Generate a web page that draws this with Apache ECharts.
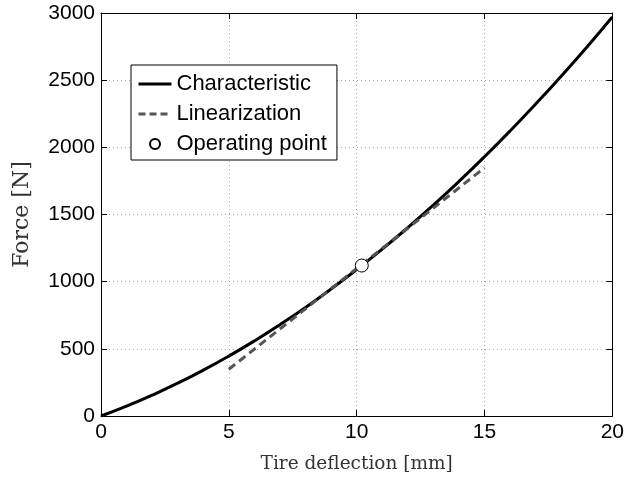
<!DOCTYPE html>
<html>
<head>
<meta charset="utf-8">
<script src="https://cdn.jsdelivr.net/npm/echarts@6/dist/echarts.min.js"></script>
<style>
  html, body { margin: 0; padding: 0; background: #fff; }
  #chart { width: 627px; height: 481px; }
</style>
</head>
<body>
<div id="chart"></div>
<script>
// tire deflection [mm] and force [N]
const deflection = [0, 1, 2, 3, 4, 5, 6, 7, 8, 9, 10, 11, 12, 13, 14, 15, 16, 17, 18, 19, 20]
const force = [0, 73, 155, 244, 341, 446, 559, 680, 808, 945, 1090, 1242, 1402, 1570, 1746, 1930, 2122, 2322, 2530, 2745, 2970]

const linX = [5, 15]
const linY = [348, 1848]

const opPoint = [10.2, 1120]

const labelFont = 'Liberation Sans'
const nameFont = 'DejaVu Serif'

const zip = (xs, ys) => xs.map((x, i) => [x, ys[i]])

const chart = echarts.init(document.getElementById('chart'))

const gridLine = { show: true, lineStyle: { color: '#a8a8a8', type: [1, 3], width: 1 } }
const tick = { show: true, inside: true, length: 6, lineStyle: { color: '#000' } }
const plain = v => String(v)

chart.setOption({
  animation: false,
  backgroundColor: '#fff',
  grid: { left: 101, right: 14, top: 13, bottom: 65 },
  legend: {
    left: 131,
    top: 65,
    orient: 'vertical',
    backgroundColor: '#fff',
    borderColor: '#000',
    borderWidth: 1,
    borderRadius: 0,
    padding: [8, 10, 5, 6],
    itemWidth: 33,
    itemHeight: 10,
    itemGap: 8,
    textStyle: { fontFamily: labelFont, fontSize: 22, color: '#000' },
    data: [
      { name: 'Characteristic', itemStyle: { opacity: 0 }, lineStyle: { width: 3, color: '#000' } },
      { name: 'Linearization', itemStyle: { opacity: 0 }, lineStyle: { width: 3, color: '#555', type: [7, 4] } },
      { name: 'Operating point', itemStyle: { opacity: 1 } }
    ]
  },
  xAxis: [{
    type: 'value', min: 0, max: 20, interval: 5,
    name: 'Tire deflection [mm]', nameLocation: 'middle', nameGap: 39,
    nameTextStyle: { fontFamily: nameFont, fontSize: 18.5, color: '#333' },
    axisLine: { show: true, onZero: false, lineStyle: { color: '#000', width: 1 } },
    axisTick: tick,
    axisLabel: { fontFamily: labelFont, fontSize: 21, color: '#000', margin: 6, formatter: plain },
    splitLine: gridLine
  }, {
    type: 'value', min: 0, max: 20, interval: 5, position: 'top',
    axisLine: { show: true, onZero: false, lineStyle: { color: '#000', width: 1 } },
    axisTick: tick, axisLabel: { show: false }, splitLine: { show: false }
  }],
  yAxis: [{
    type: 'value', min: 0, max: 3000, interval: 500,
    name: 'Force [N]', nameLocation: 'middle', nameGap: 68,
    nameTextStyle: { fontFamily: nameFont, fontSize: 22, color: '#333' },
    axisLine: { show: true, onZero: false, lineStyle: { color: '#000', width: 1 } },
    axisTick: tick,
    axisLabel: { fontFamily: labelFont, fontSize: 21, color: '#000', margin: 6, formatter: plain },
    splitLine: gridLine
  }, {
    type: 'value', min: 0, max: 3000, interval: 500, position: 'right',
    axisLine: { show: true, onZero: false, lineStyle: { color: '#000', width: 1 } },
    axisTick: tick, axisLabel: { show: false }, splitLine: { show: false }
  }],
  series: [{
    name: 'Characteristic',
    type: 'line',
    smooth: true,
    symbol: 'none',
    data: zip(deflection, force),
    itemStyle: { color: '#000' },
    lineStyle: { color: '#000', width: 3 },
    z: 3
  }, {
    name: 'Linearization',
    type: 'line',
    symbol: 'none',
    data: zip(linX, linY),
    itemStyle: { color: '#555' },
    lineStyle: { color: '#555', width: 3, type: [8, 5] },
    z: 4
  }, {
    name: 'Operating point',
    type: 'scatter',
    symbol: 'circle',
    symbolSize: 13,
    data: [opPoint],
    itemStyle: { color: '#fff', borderColor: '#000', borderWidth: 1, opacity: 1 },
    z: 5
  }]
})
</script>
</body>
</html>
